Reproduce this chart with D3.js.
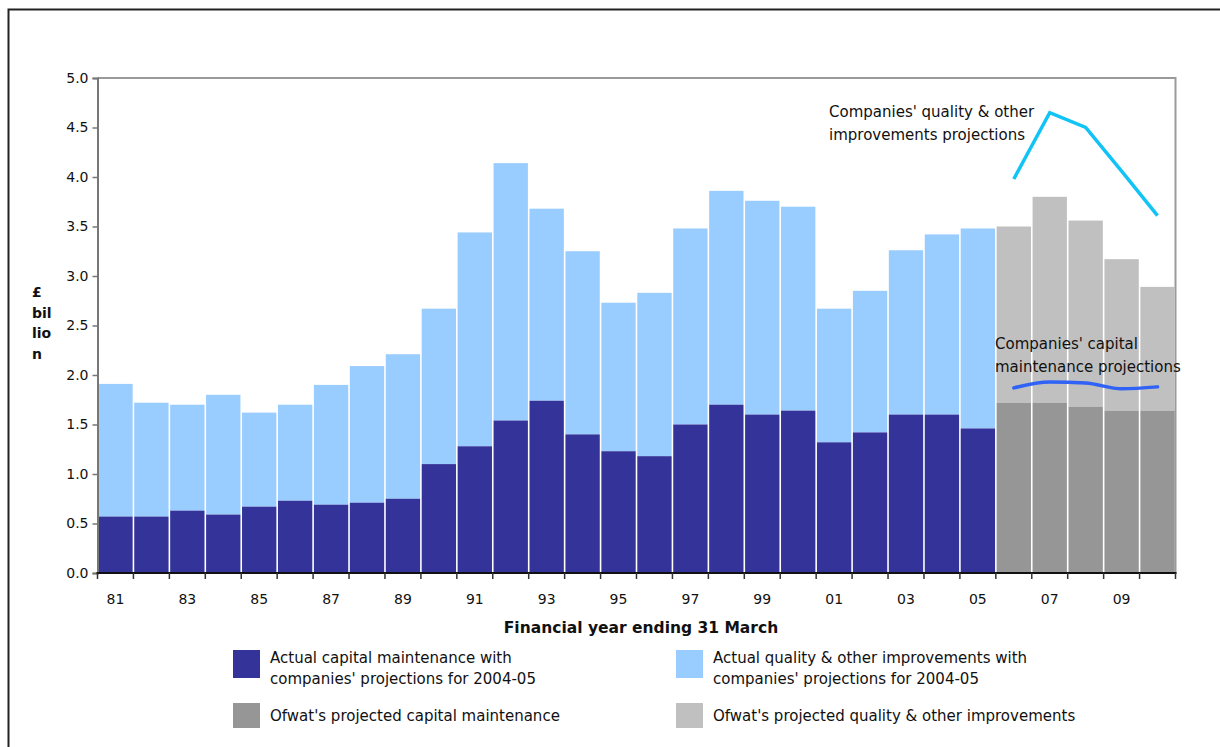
<!DOCTYPE html>
<html>
<head>
<meta charset="utf-8">
<script src="https://cdn.jsdelivr.net/npm/d3@7/dist/d3.min.js"></script>
<style>
  html, body { margin: 0; padding: 0; background: #fff; }
  svg { display: block; font-family: "DejaVu Sans", sans-serif; }
</style>
</head>
<body>
<svg id="chart" width="1220" height="747"></svg>
<script>
// ---- data ----
const actualYears   = [1981,1982,1983,1984,1985,1986,1987,1988,1989,1990,1991,1992,1993,1994,1995,1996,1997,1998,1999,2000,2001,2002,2003,2004,2005];
const actualCapital = [0.57,0.57,0.63,0.59,0.67,0.73,0.69,0.71,0.75,1.10,1.28,1.54,1.74,1.40,1.23,1.18,1.50,1.70,1.60,1.64,1.32,1.42,1.60,1.60,1.46];
const actualQuality = [1.34,1.15,1.07,1.21,0.95,0.97,1.21,1.38,1.46,1.57,2.16,2.60,1.94,1.85,1.50,1.65,1.98,2.16,2.16,2.06,1.35,1.43,1.66,1.82,2.02];
const ofwatYears    = [2006,2007,2008,2009,2010];
const ofwatCapital  = [1.72,1.72,1.68,1.64,1.64];
const ofwatQuality  = [1.78,2.08,1.88,1.53,1.25];
const companyQualityProj = [3.98,4.65,4.50,4.06,3.61];
const companyCapitalProj = [1.87,1.93,1.92,1.86,1.88];
const yTicks = [0,0.5,1,1.5,2,2.5,3,3.5,4,4.5,5];
const xTickLabels = ["81","83","85","87","89","91","93","95","97","99","01","03","05","07","09"];
const legendItems = [
  {lines:["Actual capital maintenance with","companies' projections for 2004-05"], color:"#333399"},
  {lines:["Actual quality & other improvements with","companies' projections for 2004-05"], color:"#99ccff"},
  {lines:["Ofwat's projected capital maintenance"], color:"#969696"},
  {lines:["Ofwat's projected quality & other improvements"], color:"#c0c0c0"}
];

// ---- layout ----
const svg = d3.select("#chart");
const L = 97.5, R = 1175.5, T = 78, B = 573;
const allYears = actualYears.concat(ofwatYears);
const x = d3.scaleBand().domain(allYears).range([L, R]).padding(0);
const y = d3.scaleLinear().domain([0, 5]).range([B, T]);

// outer frame (top and left)
svg.append("path").attr("d", `M8.5,747 V9.5 H1220`).attr("fill","none").attr("stroke","#222").attr("stroke-width",2);

// plot frame: top and right grey
svg.append("path").attr("d", `M${L},${T} H${R} V${B}`).attr("fill","none").attr("stroke","#9a9a9a").attr("stroke-width",2);

const gap = 0.8;
function drawStack(years, cap, qual, cCap, cQual) {
  const g = svg.append("g");
  years.forEach((yr, i) => {
    const x0 = x(yr) + gap, w = x.bandwidth() - 2*gap;
    g.append("rect").attr("x", x0).attr("width", w)
      .attr("y", y(cap[i] + qual[i])).attr("height", y(cap[i]) - y(cap[i] + qual[i]))
      .attr("fill", cQual);
    g.append("rect").attr("x", x0).attr("width", w)
      .attr("y", y(cap[i])).attr("height", B - y(cap[i]))
      .attr("fill", cCap);
  });
}
drawStack(actualYears, actualCapital, actualQuality, "#333399", "#99ccff");
drawStack(ofwatYears, ofwatCapital, ofwatQuality, "#969696", "#c0c0c0");

// projection lines
const projLine = d3.line().x((d,i) => x(ofwatYears[i]) + x.bandwidth()/2).y(d => y(d));
svg.append("path").datum(companyQualityProj).attr("d", projLine)
  .attr("fill","none").attr("stroke","#11c4f5").attr("stroke-width",3.5).attr("stroke-linejoin","miter");
svg.append("path").datum(companyCapitalProj).attr("d", projLine.curve(d3.curveMonotoneX))
  .attr("fill","none").attr("stroke","#2f62f5").attr("stroke-width",3.5).attr("stroke-linecap","round");

// y axis
const yAxis = svg.append("g").attr("transform", `translate(${L},0)`)
  .call(d3.axisLeft(y).tickValues(yTicks).tickFormat(d3.format(".1f")).tickSize(5).tickPadding(4));
yAxis.select(".domain").attr("stroke","#777").attr("stroke-width",2);
yAxis.selectAll(".tick line").attr("stroke","#777").attr("stroke-width",1.5);
yAxis.selectAll("text").attr("font-size",14).attr("fill","#111").attr("font-family","DejaVu Sans");

// x axis: ticks at year boundaries
const bounds = allYears.map(yr => x(yr)).concat([R]);
const xg = svg.append("g");
xg.append("line").attr("x1", L-1).attr("x2", R+1).attr("y1", B).attr("y2", B).attr("stroke","#111").attr("stroke-width",2);
xg.selectAll("line.tk").data(bounds).join("line").attr("class","tk")
  .attr("x1", d => d).attr("x2", d => d).attr("y1", B).attr("y2", B + 6)
  .attr("stroke","#333").attr("stroke-width",1.5);
const labelYears = allYears.filter(yr => yr % 2 === 1);
xg.selectAll("text").data(labelYears).join("text")
  .attr("x", d => x(d) + x.bandwidth()/2).attr("y", 604)
  .attr("text-anchor","middle").attr("font-size",14).attr("fill","#111")
  .text((d,i) => xTickLabels[i]);

// x title
svg.append("text").attr("x", 641).attr("y", 633).attr("text-anchor","middle")
  .attr("font-size",15.5).attr("font-weight","bold").attr("fill","#111")
  .text("Financial year ending 31 March");

// y title
const yt = svg.append("text").attr("x", 32).attr("font-size",14).attr("font-weight","bold").attr("fill","#111");
["£","bil","lio","n"].forEach((s,i) => yt.append("tspan").attr("x",32).attr("y",297 + i*20.5).text(s));

// annotations
const ann = [
  {x:829, y:117, t:"Companies' quality & other"},
  {x:829, y:140, t:"improvements projections"},
  {x:995, y:349, t:"Companies' capital"},
  {x:995, y:372, t:"maintenance projections"}
];
svg.selectAll("text.ann").data(ann).join("text").attr("class","ann")
  .attr("x", d => d.x).attr("y", d => d.y).attr("font-size",15).attr("fill","#111").text(d => d.t);

// legend
const legPos = [{x:233, y:650, h:28},{x:676, y:650, h:28},{x:233, y:703, h:25},{x:676, y:703, h:25}];
legendItems.forEach((it, i) => {
  const p = legPos[i];
  svg.append("rect").attr("x", p.x).attr("y", p.y).attr("width", 27).attr("height", p.h).attr("fill", it.color);
  const tx = p.x + 37;
  it.lines.forEach((ln, j) => {
    const ty = it.lines.length === 1 ? p.y + 18 : p.y + 13 + j*21;
    svg.append("text").attr("x", tx).attr("y", ty).attr("font-size",15).attr("fill","#111").text(ln);
  });
});
</script>
</body>
</html>
